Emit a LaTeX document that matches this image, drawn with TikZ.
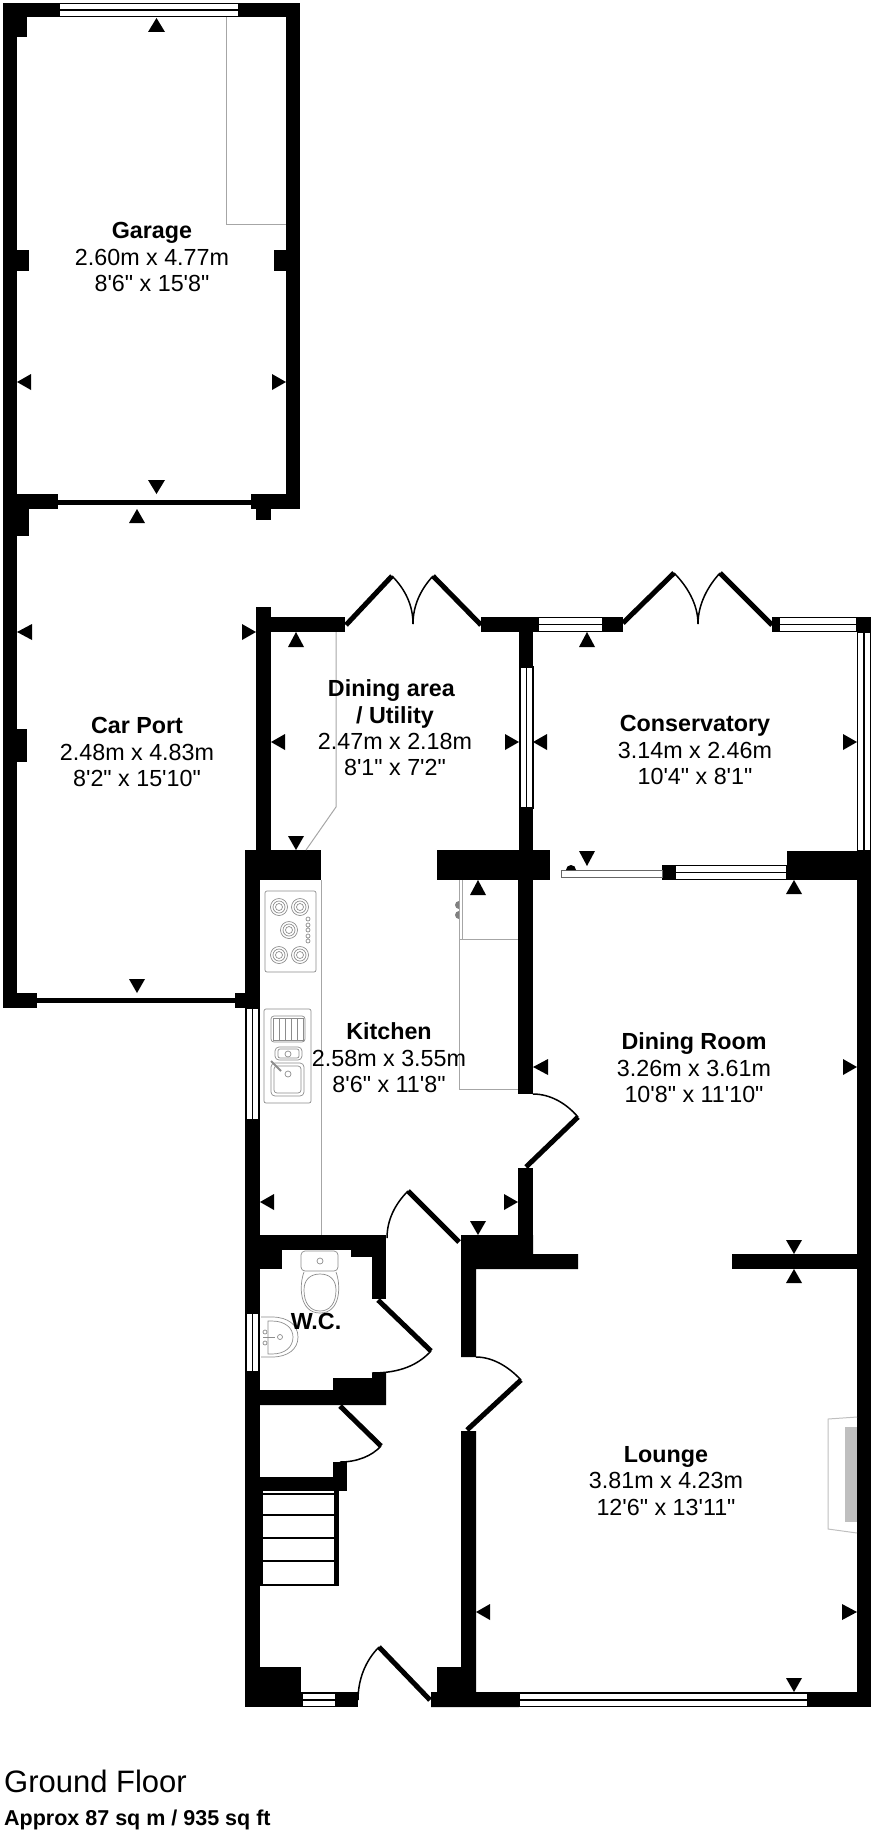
\documentclass[tikz,border=0pt]{standalone}
\usepackage{fontspec}
\newfontfamily\planfont{Liberation Sans}
\begin{document}
\begin{tikzpicture}[x=1pt,y=-1pt]

\tikzset{wall/.style = {fill=black}}
\tikzset{pointer/.style = {fill=black}}
\tikzset{pane/.style = {draw=black,fill=white,line width=1.5pt}}
\tikzset{leaf/.style = {line width=5pt}}
\tikzset{swing/.style = {line width=1.5pt}}
\tikzset{unit/.style = {draw=black!35,line width=1pt}}
\tikzset{fitting/.style = {draw=black!45,line width=0.7pt}}
\tikzset{room/.style = {align=center,inner sep=0pt,font=\planfont\fontsize{23.3}{26.4}\selectfont}}
\tikzset{caption/.style = {anchor=west,inner sep=0pt}}

\useasboundingbox (0,0) rectangle (874,1833);

% garage and car port walls
\fill[wall] (3,3) rectangle (17,1008);
\fill[wall] (3,3) rectangle (59,17);
\fill[wall] (239,3) rectangle (300,17);
\fill[wall] (3,3) rectangle (27,37);
\fill[wall] (286,3) rectangle (300,509);
\fill[wall] (17,250) rectangle (29,271);
\fill[wall] (274,250) rectangle (286,271);
\fill[wall] (3,494) rectangle (58,509);
\fill[wall] (17,509) rectangle (29,536);
\fill[wall] (58,500) rectangle (251,505);
\fill[wall] (251,494) rectangle (300,509);
\fill[wall] (256,509) rectangle (271,520);
\fill[wall] (17,729) rectangle (27,762);
\fill[wall] (3,993) rectangle (37,1008);
\fill[wall] (37,998) rectangle (235,1003);
\fill[wall] (235,993) rectangle (260,1008);

% dining area and conservatory walls
\fill[wall] (256,607) rectangle (271,850);
\fill[wall] (271,617) rectangle (345,632);
\fill[wall] (481,617) rectangle (538,632);
\fill[wall] (519,617) rectangle (533,850);
\fill[wall] (245,850) rectangle (321,880);
\fill[wall] (437,850) rectangle (550,880);
\fill[wall] (603,617) rectangle (623,632);
\fill[wall] (772,617) rectangle (779,632);
\fill[wall] (857,617) rectangle (871,632);
\fill[wall] (662,865) rectangle (675,880);
\fill[wall] (787,851) rectangle (871,880);

% house walls
\fill[wall] (245,880) rectangle (260,1707);
\fill[wall] (518,880) rectangle (533,1094);
\fill[wall] (518,1168) rectangle (533,1235);
\fill[wall] (857,880) rectangle (871,1707);
\fill[wall] (245,1235) rectangle (386,1250);
\fill[wall] (260,1250) rectangle (282,1269);
\fill[wall] (351,1250) rectangle (386,1257);
\fill[wall] (372,1250) rectangle (386,1299);
\fill[wall] (260,1390) -- (333,1390) -- (333,1378) -- (372,1378) -- (372,1373) -- (386,1373) -- (386,1405) -- (260,1405) -- cycle;
\fill[wall] (461,1235) -- (533,1235) -- (533,1254) -- (578,1254) -- (578,1269) -- (476,1269) -- (476,1357) -- (461,1357) -- cycle;
\fill[wall] (732,1254) rectangle (857,1269);
\fill[wall] (333,1462) rectangle (347,1491);
\fill[wall] (245,1477) rectangle (347,1491);
\fill[wall] (245,1491) rectangle (263,1585);
\fill[wall] (334,1491) rectangle (339,1586);
\fill[wall] (245,1667) rectangle (301,1707);
\fill[wall] (336,1692) rectangle (358,1707);
\fill[wall] (431,1692) -- (437,1692) -- (437,1667) -- (461,1667) -- (461,1431) -- (476,1431) -- (476,1692) -- (519,1692) -- (519,1707) -- (431,1707) -- cycle;
\fill[wall] (808,1692) rectangle (871,1707);

% stairs
\draw[line width=1.5pt] (263,1494) -- (334,1494);
\draw[line width=1.5pt] (263,1515) -- (334,1515);
\draw[line width=1.5pt] (263,1538) -- (334,1538);
\draw[line width=1.5pt] (263,1561) -- (334,1561);
\draw[line width=1.5pt] (260,1585) -- (339,1585);

% windows
\draw[pane] (59,3.5) rectangle (239,16.5);
\draw[pane] (59,10) -- (239,10);
\draw[pane] (538,617.5) rectangle (603,631.5);
\draw[pane] (538,624.5) -- (603,624.5);
\draw[pane] (779,617.5) rectangle (857,631.5);
\draw[pane] (779,624.5) -- (857,624.5);
\draw[pane] (520,667) rectangle (533,808);
\draw[pane] (526.5,667) -- (526.5,808);
\draw[pane] (857.5,632) rectangle (870.5,851);
\draw[pane] (864,632) -- (864,851);
\draw[pane] (675,865.5) rectangle (787,879.5);
\draw[pane] (675,872.5) -- (787,872.5);
\draw[pane] (246,1008) rectangle (259,1120);
\draw[pane] (252.5,1008) -- (252.5,1120);
\draw[pane] (246,1313) rectangle (259,1372);
\draw[pane] (252.5,1313) -- (252.5,1372);
\draw[pane] (302,1693) rectangle (336,1706.5);
\draw[pane] (302,1700) -- (336,1700);
\draw[pane] (519,1693) rectangle (808,1706.5);
\draw[pane] (519,1700) -- (808,1700);

% sliding door
\draw[draw=black!60,fill=white,line width=1pt] (561,870) rectangle (662,877);
\fill[black] (566,870) arc (180:360:5) -- cycle;

% doors
\draw[leaf] (346,625) -- (392,576);
\draw[leaf] (433,576) -- (481,625);
\draw[leaf] (623,623) -- (674,573);
\draw[leaf] (720,573) -- (772,625);
\draw[leaf] (578,1117) -- (526,1167);
\draw[leaf] (408,1191) -- (459,1242);
\draw[leaf] (378,1300) -- (431,1351);
\draw[leaf] (521,1380) -- (467,1430);
\draw[leaf] (340,1406) -- (381,1446);
\draw[leaf] (379,1647) -- (430,1700);
\draw[swing] (392,576) .. controls (405,589) and (413,605) .. (413,624);
\draw[swing] (433,576) .. controls (421,589) and (413,605) .. (413,624);
\draw[swing] (674,573) .. controls (687,586) and (698,604) .. (698,624);
\draw[swing] (720,573) .. controls (708,586) and (698,604) .. (698,624);
\draw[swing] (533,1094) .. controls (550,1094) and (566,1103) .. (578,1117);
\draw[swing] (387,1238) .. controls (387,1220) and (395,1204) .. (408,1191);
\draw[swing] (431,1351) .. controls (418,1365) and (400,1373) .. (372,1373);
\draw[swing] (476,1357) .. controls (492,1357) and (508,1366) .. (521,1380);
\draw[swing] (381,1446) .. controls (372,1456) and (357,1462) .. (340,1462);
\draw[swing] (358,1700) .. controls (358,1680) and (365,1661) .. (379,1647);

% units
\draw[unit] (226,17) -- (226,224) -- (286,224);
\draw[unit] (336,632) -- (336,807) -- (306,850);
\draw[unit] (321,880) -- (321,1235);
\draw[unit] (459,880) -- (459,1089) -- (518,1089);
\draw[unit] (462,880) -- (462,939);
\draw[unit] (459,939) -- (518,939);
\fill[black!50] (459,901) arc (270:90:4) -- cycle;
\fill[black!50] (459,911) arc (270:90:4) -- cycle;

% hob
\draw[fitting,rounded corners=2pt] (265,891) rectangle (316,972);
\draw[fitting] (279,907) circle (8.5) circle (6) circle (3.5);
\draw[fitting] (300,907) circle (8.5) circle (6) circle (3.5);
\draw[fitting] (289,930) circle (8.5) circle (6) circle (3.5);
\draw[fitting] (279,955) circle (8.5) circle (6) circle (3.5);
\draw[fitting] (300,955) circle (8.5) circle (6) circle (3.5);
\draw[fitting] (308,919) circle (2) (308,925) circle (2) (308,930) circle (2) (308,936) circle (2) (308,941) circle (2);

% sink
\draw[fitting,rounded corners=2pt] (264,1009) rectangle (311,1103);
\draw[fitting,rounded corners=3pt] (271,1016) rectangle (305,1042);
\draw[fitting] (273,1018) rectangle (279,1040) (279,1018) rectangle (285,1040) (285,1018) rectangle (291,1040) (291,1018) rectangle (297,1040) (297,1018) rectangle (303,1040);
\draw[fitting,rounded corners=4pt] (275,1047) rectangle (302,1060);
\draw[fitting,rounded corners=2pt] (278,1049) rectangle (299,1058);
\draw[fitting] (288,1054) circle (3);
\draw[fitting,rounded corners=4pt] (271,1063) rectangle (304,1096);
\draw[fitting,rounded corners=3pt] (274,1066) rectangle (301,1093);
\draw[fitting] (288,1074) circle (3);
\draw[fitting,line width=2pt] (271,1061) -- (281,1071);

% toilet
\draw[fitting,rounded corners=4pt] (301,1251) rectangle (338,1271);
\draw[fitting] (320,1261) circle (3);
\draw[fitting] (304,1272) .. controls (299,1285) and (299,1313) .. (320,1313) .. controls (341,1313) and (341,1285) .. (336,1272);
\draw[fitting] (304,1290) .. controls (304,1280) and (310,1274) .. (320,1274) .. controls (330,1274) and (336,1280) .. (336,1290) .. controls (336,1303) and (330,1311) .. (320,1311) .. controls (310,1311) and (304,1303) .. (304,1290) -- cycle;

% basin
\draw[fitting] (261,1317) -- (272,1317) .. controls (288,1317) and (298,1325) .. (298,1337) .. controls (298,1349) and (288,1357) .. (272,1357) -- (261,1357);
\draw[fitting] (268,1321) -- (272,1321) .. controls (285,1321) and (293,1328) .. (293,1337) .. controls (293,1347) and (285,1354) .. (272,1354) -- (268,1354) -- cycle;
\draw[fitting] (280,1337) circle (2.5);
\draw[fitting] (263,1337) -- (275,1337);
\draw[fitting] (265,1332) circle (2) (265,1343) circle (2);

% fireplace
\draw[draw=black!25,line width=1pt] (857,1417) -- (828,1419) -- (828,1529) -- (857,1533);
\fill[black!25] (845,1427) rectangle (857,1522);

% pointers
\fill[pointer] (156.5,18) -- (148,32) -- (165,32) -- cycle;
\fill[pointer] (17,382) -- (31,374) -- (31,390) -- cycle;
\fill[pointer] (286,382) -- (272,374) -- (272,390) -- cycle;
\fill[pointer] (156.5,494) -- (148,480) -- (165,480) -- cycle;
\fill[pointer] (137,509) -- (129,523) -- (145,523) -- cycle;
\fill[pointer] (17,632) -- (32,624) -- (32,640) -- cycle;
\fill[pointer] (256,632) -- (242,624) -- (242,640) -- cycle;
\fill[pointer] (137,993) -- (129,979) -- (145,979) -- cycle;
\fill[pointer] (296,632) -- (288,647) -- (304,647) -- cycle;
\fill[pointer] (271,742) -- (285,734) -- (285,750) -- cycle;
\fill[pointer] (296,850) -- (288,836) -- (304,836) -- cycle;
\fill[pointer] (519,742) -- (505,734) -- (505,750) -- cycle;
\fill[pointer] (533,742) -- (547,734) -- (547,750) -- cycle;
\fill[pointer] (587,632) -- (579,647) -- (595,647) -- cycle;
\fill[pointer] (857,742) -- (843,734) -- (843,750) -- cycle;
\fill[pointer] (587,866) -- (579,851) -- (595,851) -- cycle;
\fill[pointer] (794,880) -- (786,894) -- (802,894) -- cycle;
\fill[pointer] (478,880) -- (470,895) -- (486,895) -- cycle;
\fill[pointer] (260,1202) -- (274,1194) -- (274,1210) -- cycle;
\fill[pointer] (518,1202) -- (504,1194) -- (504,1210) -- cycle;
\fill[pointer] (478,1235) -- (470,1221) -- (486,1221) -- cycle;
\fill[pointer] (533,1067) -- (548,1059) -- (548,1075) -- cycle;
\fill[pointer] (857,1067) -- (843,1059) -- (843,1075) -- cycle;
\fill[pointer] (794,1254) -- (786,1240) -- (802,1240) -- cycle;
\fill[pointer] (794,1269) -- (786,1283) -- (802,1283) -- cycle;
\fill[pointer] (476,1612) -- (490,1604) -- (490,1620) -- cycle;
\fill[pointer] (857,1612) -- (842,1604) -- (842,1620) -- cycle;
\fill[pointer] (794,1692) -- (786,1678) -- (802,1678) -- cycle;

% labels
\node[room] (garage) at (152,257) {\textbf{Garage}\\2.60m x 4.77m\\8'6" x 15'8"};
\node[room] (carport) at (137,752) {\textbf{Car Port}\\2.48m x 4.83m\\8'2" x 15'10"};
\node[room] (diningarea) at (395,728) {\textbf{Dining area}\hspace*{7pt}\\\textbf{/ Utility}\\2.47m x 2.18m\\8'1" x 7'2"};
\node[room] (conservatory) at (695,750) {\textbf{Conservatory}\\3.14m x 2.46m\\10'4" x 8'1"};
\node[room] (kitchen) at (389,1058) {\textbf{Kitchen}\\2.58m x 3.55m\\8'6" x 11'8"};
\node[room] (diningroom) at (694,1068) {\textbf{Dining Room}\\3.26m x 3.61m\\10'8" x 11'10"};
\node[room] (lounge) at (666,1481) {\textbf{Lounge}\\3.81m x 4.23m\\12'6" x 13'11"};
\node[room] (wc) at (316,1321) {\textbf{W.C.}};
\node[caption,font=\planfont\fontsize{31}{36}\selectfont] (groundfloor) at (4,1781) {Ground Floor};
\node[caption,font=\planfont\bfseries\fontsize{21.5}{25}\selectfont] (area) at (4,1820) {Approx 87 sq m / 935 sq ft};

\end{tikzpicture}
\end{document}
